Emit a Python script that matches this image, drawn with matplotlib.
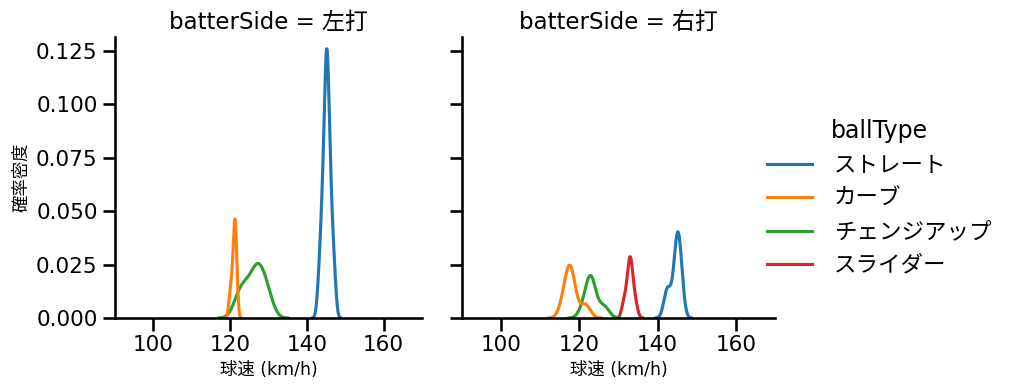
import matplotlib
matplotlib.use("Agg")
import matplotlib.pyplot as plt
import seaborn as sns
import pandas as pd

# ---- data (pitch speeds, km/h) ----
ball_types = ["ストレート", "カーブ", "チェンジアップ", "スライダー"]
sides = ["左打", "右打"]

left_straight = [143.0, 143.4, 143.7, 143.9, 144.0, 144.2, 144.3, 144.5, 144.6, 144.7, 144.8,
                 144.9, 145.0, 145.0, 145.1, 145.1, 145.2, 145.2, 145.3, 145.3, 145.4, 145.5,
                 145.6, 145.7, 145.8, 145.9, 146.0, 146.1, 146.3, 146.5, 146.7, 147.0, 147.3]
left_curve = [120.0, 120.6, 121.0, 121.2, 121.3, 121.4, 121.7]
left_change = [121.4, 122.2, 122.8, 123.3, 123.8, 124.4, 125.0, 125.6, 126.1, 126.5,
               126.8, 127.1, 127.4, 127.7, 128.0, 128.4, 128.9, 129.4, 129.9, 130.6]

right_straight = [142.0, 142.5, 143.0, 144.1, 144.6, 144.8, 145.0, 145.1, 145.2, 145.4,
                  145.6, 145.9, 146.2]
right_curve = [115.6, 116.5, 117.0, 117.3, 117.5, 117.7, 117.9, 118.2, 118.7, 121.0, 122.0]
right_change = [120.8, 122.0, 122.5, 122.8, 123.0, 123.2, 123.6, 125.4, 126.8]
right_slider = [131.4, 132.3, 132.8, 133.0, 133.1, 133.4, 134.3]

x_ticks = [100, 120, 140, 160]
y_ticks = [0, 0.025, 0.05, 0.075, 0.1, 0.125]

rows = []
for side, groups in [("左打", {"ストレート": left_straight, "カーブ": left_curve,
                              "チェンジアップ": left_change}),
                     ("右打", {"ストレート": right_straight, "カーブ": right_curve,
                              "チェンジアップ": right_change, "スライダー": right_slider})]:
    for bt, vals in groups.items():
        for v in vals:
            rows.append({"batterSide": side, "ballType": bt, "speed": v})
df = pd.DataFrame(rows)

sns.set_context("talk")
plt.rcParams["font.family"] = ["DejaVu Sans", "Noto Sans CJK JP"]

g = sns.displot(data=df, x="speed", hue="ballType", col="batterSide", kind="kde",
                hue_order=ball_types, col_order=sides, height=4, aspect=1,
                palette="tab10")
g.set_axis_labels("球速 (km/h)", "確率密度", fontsize=12.5)
g.set(xlim=(90, 170), ylim=(0, 0.1316))
for ax in g.axes.flat:
    ax.set_xticks(x_ticks)
    ax.set_yticks(y_ticks)
    ax.tick_params(labelsize=15.5)
g.set_titles("batterSide = {col_name}", size=16.5)
fig = g.figure
fig.set_size_inches(10.14, 3.91)
W, H = 1014, 391
ax1, ax2 = g.axes.flat
ax1.set_position([115 / W, (H - 318) / H, (422 - 115) / W, (318 - 37) / H])
ax2.set_position([462 / W, (H - 318) / H, (775 - 462) / W, (318 - 37) / H])
sns.move_legend(g, "center left", bbox_to_anchor=(0.736, 0.495), frameon=False,
                fontsize=16.2, title_fontsize=17, labelspacing=0.57, handletextpad=1.0)
fig.savefig("out.png", dpi=100)
